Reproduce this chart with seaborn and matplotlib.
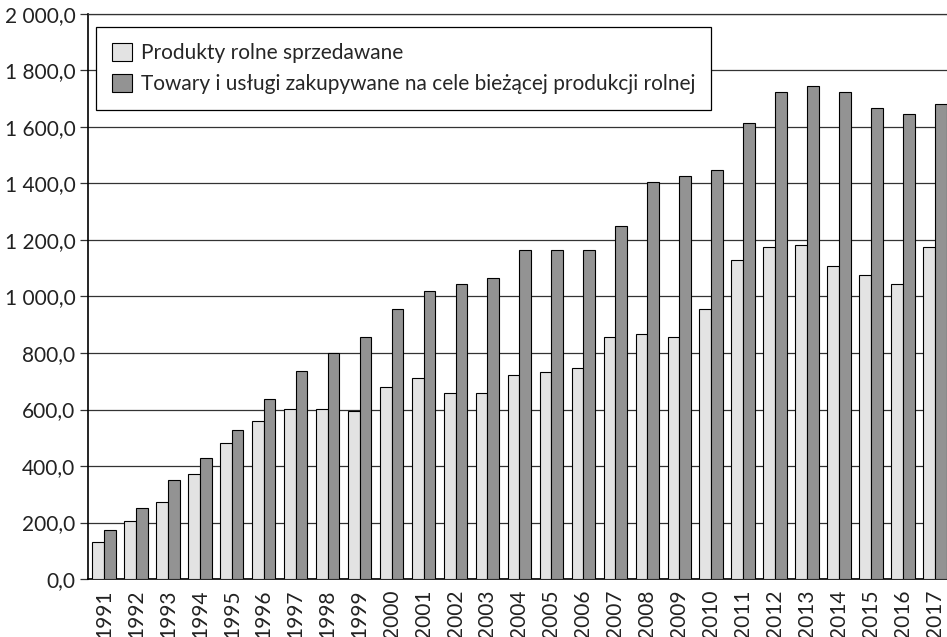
import pandas as pd
import numpy as np
import matplotlib.pyplot as plt
import seaborn as sns
from matplotlib.ticker import FuncFormatter

# dane
lata = [str(r) for r in range(1991, 2018)]
produkty_sprzedawane = [131, 207, 273, 373, 483, 560, 603, 603, 593, 680,
                        713, 659, 659, 723, 734, 746, 857, 866, 857, 954,
                        1130, 1174, 1184, 1109, 1076, 1043, 1174]
towary_zakupywane = [174, 253, 351, 429, 527, 636, 736, 800, 857, 954,
                     1021, 1043, 1064, 1163, 1163, 1163, 1251, 1404, 1426, 1449,
                     1613, 1723, 1746, 1723, 1669, 1646, 1680]
seria_1 = "Produkty rolne sprzedawane"
seria_2 = "Towary i usługi zakupywane na cele bieżącej produkcji rolnej"
y_ticks = list(range(0, 2001, 200))

df = pd.DataFrame({
    "rok": lata * 2,
    "wartosc": produkty_sprzedawane + towary_zakupywane,
    "seria": [seria_1] * len(lata) + [seria_2] * len(lata),
})

sns.set_style("white")
plt.rcParams["font.family"] = ["Lato", "DejaVu Sans"]

fig = plt.figure(figsize=(9.47, 6.37), dpi=100)
# osie: lewa krawedz 88 px, gora 14 px, dol 579 px
ax = fig.add_axes([88 / 947, 1 - 579 / 637, 1 - 88 / 947, 565 / 637])

sns.barplot(data=df, x="rok", y="wartosc", hue="seria",
            palette=["#e3e3e3", "#939393"], width=0.73,
            edgecolor="black", linewidth=0.8, ax=ax, legend=False,
            zorder=3)

ax.set_ylim(0, 2000)
ax.set_xlim(-0.5, 26.38)
ax.set_yticks(y_ticks)
ax.yaxis.set_major_formatter(FuncFormatter(
    lambda v, p: f"{v:,.1f}".replace(",", " ").replace(".", ",")))
ax.grid(axis="y", color="#333333", linewidth=0.9, zorder=0)
ax.set_axisbelow(True)
ax.set_xlabel("")
ax.set_ylabel("")

for s in ["left", "bottom"]:
    ax.spines[s].set_color("black")
    ax.spines[s].set_linewidth(1.2)
ax.spines["top"].set_color("#333333")
ax.spines["top"].set_linewidth(0.9)
ax.spines["right"].set_visible(False)

ax.tick_params(axis="y", which="both", left=True, length=6, width=0.9,
               color="#333333", labelsize=15, pad=3, labelcolor="#222222")
ax.tick_params(axis="x", bottom=False, labelsize=15, rotation=90, pad=4,
               labelcolor="#222222")

handles = [plt.Rectangle((0, 0), 1, 1, facecolor="#e3e3e3", edgecolor="black", linewidth=0.8),
           plt.Rectangle((0, 0), 1, 1, facecolor="#939393", edgecolor="black", linewidth=0.8)]
leg = ax.legend(handles, [seria_1, seria_2], loc="upper left",
                bbox_to_anchor=(8 / 859, (579 - 27) / 565), borderaxespad=0,
                fancybox=False, framealpha=1, edgecolor="black",
                fontsize=15, handlelength=1.0, handleheight=1.0,
                handletextpad=0.4, labelspacing=0.5, borderpad=0.75)
leg.get_frame().set_linewidth(0.9)

plt.savefig("out.png", dpi=100)
